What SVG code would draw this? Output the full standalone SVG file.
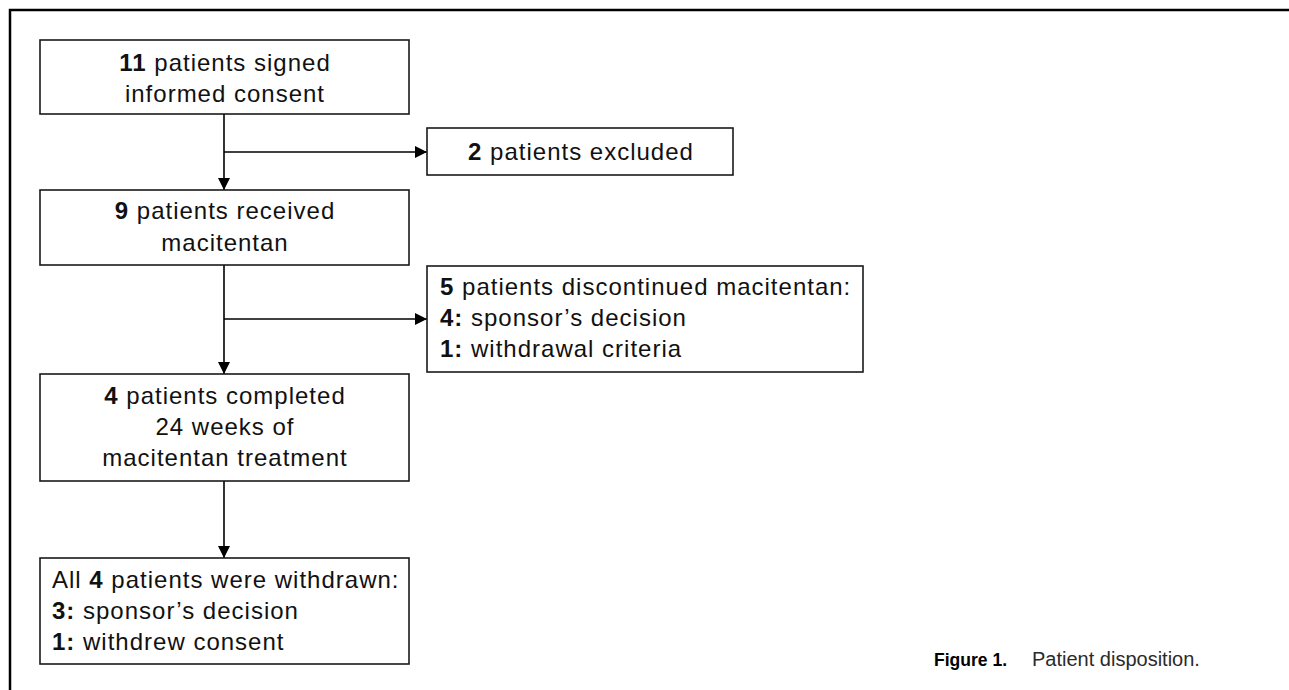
<svg xmlns="http://www.w3.org/2000/svg" width="1289" height="690" viewBox="0 0 1289 690">
<defs>
<marker id="ah" viewBox="0 0 10 10" refX="10" refY="5" markerWidth="12" markerHeight="12" markerUnits="userSpaceOnUse" orient="auto">
<path d="M0,0 L10,5 L0,10 Z" fill="#000"/>
</marker>
<style>
.box{fill:#fff;stroke:#1a1a1a;stroke-width:1.6}
.t{font-family:"Liberation Sans",Arial,sans-serif;font-size:24px;letter-spacing:1px;fill:#111}
.c{text-anchor:middle}
.b{font-weight:bold}
.ln{stroke:#000;stroke-width:1.6;fill:none}
.frame{stroke:#000;stroke-width:2.5;fill:none}
</style>
</defs>
<rect width="1289" height="690" fill="#fff"/>
<path class="frame" d="M10,690 L10,10 L1289,10"/>
<g id="connectors">
<path class="ln" d="M224,114 L224,190" marker-end="url(#ah)"/>
<path class="ln" d="M224,152 L427,152" marker-end="url(#ah)"/>
<path class="ln" d="M224,265 L224,374" marker-end="url(#ah)"/>
<path class="ln" d="M224,319 L427,319" marker-end="url(#ah)"/>
<path class="ln" d="M224,481 L224,558" marker-end="url(#ah)"/>
</g>
<g id="n1">
<rect class="box" x="40" y="40" width="369" height="74"/>
<text class="t c" x="225" y="71"><tspan class="b">11</tspan> patients signed</text>
<text class="t c" x="225" y="102">informed consent</text>
</g>
<g id="n2">
<rect class="box" x="427" y="128" width="306" height="47"/>
<text class="t c" x="581" y="160"><tspan class="b">2</tspan> patients excluded</text>
</g>
<g id="n3">
<rect class="box" x="40" y="190" width="369" height="75"/>
<text class="t c" x="225" y="219"><tspan class="b">9</tspan> patients received</text>
<text class="t c" x="225" y="251">macitentan</text>
</g>
<g id="n4">
<rect class="box" x="427" y="266" width="436" height="106"/>
<text class="t" x="440" y="295"><tspan class="b">5</tspan> patients discontinued macitentan:</text>
<text class="t" x="440" y="326"><tspan class="b">4:</tspan> sponsor’s decision</text>
<text class="t" x="440" y="357"><tspan class="b">1:</tspan> withdrawal criteria</text>
</g>
<g id="n5">
<rect class="box" x="40" y="374" width="369" height="107"/>
<text class="t c" x="225" y="404"><tspan class="b">4</tspan> patients completed</text>
<text class="t c" x="225" y="435">24 weeks of</text>
<text class="t c" x="225" y="466">macitentan treatment</text>
</g>
<g id="n6">
<rect class="box" x="40" y="558" width="369" height="106"/>
<text class="t" x="52" y="588">All <tspan class="b">4</tspan> patients were withdrawn:</text>
<text class="t" x="52" y="619"><tspan class="b">3:</tspan> sponsor’s decision</text>
<text class="t" x="52" y="650"><tspan class="b">1:</tspan> withdrew consent</text>
</g>
<g id="caption">
<text x="934" y="666" font-family="'Liberation Sans',Arial,sans-serif" font-size="19" font-weight="bold" textLength="73" lengthAdjust="spacingAndGlyphs" fill="#000">Figure 1.</text>
<text x="1032" y="666" font-family="'Liberation Sans',Arial,sans-serif" font-size="20" fill="#2a2a2a">Patient disposition.</text>
</g>
</svg>
